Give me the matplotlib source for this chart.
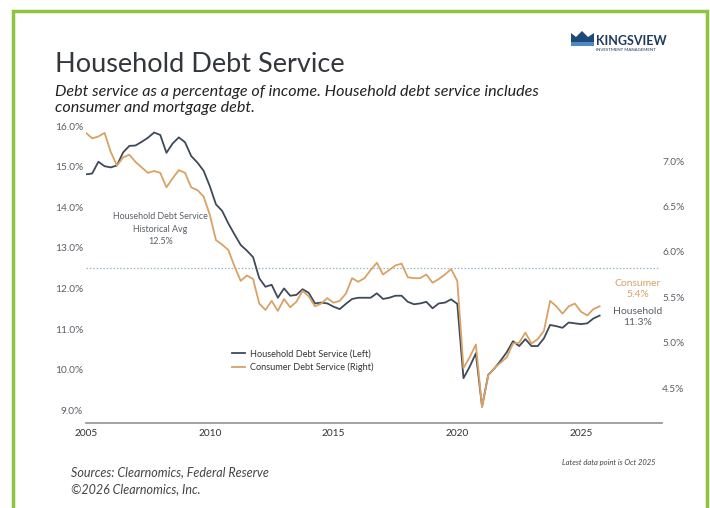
import numpy as np
import matplotlib
matplotlib.use("Agg")
import matplotlib.pyplot as plt
import matplotlib.patches as patches
from matplotlib.lines import Line2D

plt.rcParams['font.family'] = ['Lato', 'DejaVu Sans']

# quarterly data, 2005 Q1 onwards
start_year = 2005
household = [14.81, 14.83, 15.12, 15.01, 14.98, 15.03, 15.35, 15.51, 15.52, 15.61,
             15.71, 15.84, 15.78, 15.34, 15.57, 15.72, 15.60, 15.26, 15.10, 14.90,
             14.52, 14.07, 13.91, 13.60, 13.33, 13.07, 12.93, 12.77, 12.25, 12.04,
             12.09, 11.77, 12.00, 11.82, 11.84, 11.98, 11.89, 11.63, 11.65, 11.63,
             11.55, 11.49, 11.62, 11.74, 11.77, 11.77, 11.77, 11.88, 11.74, 11.77,
             11.82, 11.82, 11.67, 11.61, 11.63, 11.67, 11.51, 11.63, 11.65, 11.73,
             11.62, 9.79, 10.07, 10.40, 9.09, 9.87, 10.03, 10.22, 10.43, 10.70,
             10.58, 10.75, 10.58, 10.58, 10.77, 11.10, 11.07, 11.03, 11.16, 11.14,
             11.12, 11.14, 11.26, 11.33]
consumer = [7.31, 7.25, 7.27, 7.31, 7.10, 6.95, 7.04, 7.07, 6.99, 6.93,
            6.87, 6.89, 6.87, 6.71, 6.81, 6.90, 6.87, 6.71, 6.68, 6.61,
            6.41, 6.13, 6.08, 6.02, 5.84, 5.68, 5.74, 5.70, 5.43, 5.36,
            5.46, 5.35, 5.48, 5.39, 5.45, 5.57, 5.51, 5.40, 5.43, 5.49,
            5.44, 5.46, 5.54, 5.71, 5.67, 5.71, 5.80, 5.88, 5.75, 5.80,
            5.85, 5.87, 5.72, 5.71, 5.71, 5.75, 5.66, 5.70, 5.75, 5.81,
            5.68, 4.72, 4.84, 4.98, 4.29, 4.64, 4.72, 4.78, 4.84, 4.99,
            5.00, 5.11, 4.99, 5.04, 5.13, 5.46, 5.40, 5.32, 5.40, 5.43,
            5.34, 5.30, 5.37, 5.40]
dates = start_year + 0.25 * np.arange(len(household))

hist_avg = 12.5
left_ticks = [9.0, 10.0, 11.0, 12.0, 13.0, 14.0, 15.0, 16.0]
right_ticks = [4.5, 5.0, 5.5, 6.0, 6.5, 7.0]
year_ticks = [2005, 2010, 2015, 2020, 2025]

HH_COLOR = '#3E4A59'
CON_COLOR = '#D9A264'
TXT = '#5a5f66'

W, H = 710, 508
fig = plt.figure(figsize=(W / 100, H / 100), dpi=100)
fig.patch.set_facecolor('white')

# green frame
fig.add_artist(patches.Rectangle((13 / W, -0.05), 694 / W, 1.05 - 11 / H,
                                 transform=fig.transFigure, fill=False,
                                 edgecolor='#8CC63F', linewidth=2.5))

ax = fig.add_axes([86 / W, 1 - 423 / H, 576 / W, 303 / H])
ax2 = ax.twinx()

ax.plot(dates, household, color=HH_COLOR, linewidth=1.3, zorder=3)
ax2.plot(dates, consumer, color=CON_COLOR, linewidth=1.3, zorder=2)
ax.axhline(hist_avg, xmin=0, xmax=0.993, color='#9DB4C2', linestyle=(0, (1.2, 1.5)),
           linewidth=0.9, zorder=1)

ax.set_xlim(2005, 2028.27)
ax.set_ylim(8.685, 16.148)
ax2.set_ylim(4.115, 7.452)

ax.set_yticks(left_ticks)
ax.set_yticklabels([f'{v:.1f}%' for v in left_ticks])
ax2.set_yticks(right_ticks)
ax2.set_yticklabels([f'{v:.1f}%' for v in right_ticks])
ax.set_xticks(year_ticks)
ax.set_xticklabels([str(y) for y in year_ticks])

for a in (ax, ax2):
    for s in ('top', 'left', 'right'):
        a.spines[s].set_visible(False)
    a.spines['bottom'].set_color('#9a9a9a')
    a.spines['bottom'].set_linewidth(1.3)
    a.tick_params(length=0, labelsize=7.3, labelcolor=TXT)
ax.tick_params(axis='y', pad=2)
ax.tick_params(axis='x', pad=4, labelcolor='#333333')
ax2.tick_params(axis='y', pad=0)
ax2.spines['bottom'].set_visible(False)

ax.text(2008.0, 13.87, 'Household Debt Service\nHistorical Avg\n12.5%',
        ha='center', va='top', fontsize=6.4, color=TXT, linespacing=1.5)

legend_handles = [Line2D([], [], color=HH_COLOR, lw=1.3),
                  Line2D([], [], color=CON_COLOR, lw=1.3)]
ax.legend(legend_handles, ['Household Debt Service (Left)', 'Consumer Debt Service (Right)'],
          loc='upper left', bbox_to_anchor=(0.24, 0.27), frameon=False, fontsize=6.6,
          handlelength=1.4, handletextpad=0.5, labelspacing=0.45, labelcolor='#333333')

fig.text(638 / W, 1 - 289 / H, 'Consumer\n5.4%', ha='center', va='center',
         fontsize=7.5, color=CON_COLOR, linespacing=1.3)
fig.text(638 / W, 1 - 317 / H, 'Household\n11.3%', ha='center', va='center',
         fontsize=7.5, color=TXT, linespacing=1.3)

# titles
fig.text(55 / W, 1 - 64 / H, 'Household Debt Service', ha='left', va='center',
         fontsize=19.5, color='#33373c')
fig.text(55 / W, 1 - 100 / H,
         'Debt service as a percentage of income. Household debt service includes\n'
         'consumer and mortgage debt.',
         ha='left', va='center', fontsize=11.6, style='italic', color='#222222',
         linespacing=1.1)

# logo
crown_pts = [(571, 46), (571, 33), (576, 37), (582, 31), (588, 37), (594, 33), (594, 46)]
fig.add_artist(patches.Polygon([(x / W, 1 - y / H) for x, y in crown_pts], closed=True,
                               transform=fig.transFigure, facecolor='#1F4A78',
                               edgecolor='none'))
fig.add_artist(patches.Rectangle((571 / W, 1 - 46 / H), 23 / W, 4 / H,
                                 transform=fig.transFigure, facecolor='#4B8AC4',
                                 edgecolor='none'))
fig.text(596 / W, 1 - 41 / H, 'KINGSVIEW', ha='left', va='center', fontsize=9,
         fontweight='bold', color='#1F3B5E')
fig.text(596 / W, 1 - 50 / H, 'INVESTMENT MANAGEMENT', ha='left', va='center',
         fontsize=3.2, color='#1F3B5E')

# footer
fig.text(71 / W, 1 - 472 / H, 'Sources: Clearnomics, Federal Reserve', ha='left',
         va='center', fontsize=9, style='italic', color='#444444')
fig.text(71 / W, 1 - 489 / H, '©2026 Clearnomics, Inc.', ha='left', va='center',
         fontsize=9, style='italic', color='#444444')
fig.text(655 / W, 1 - 463 / H, 'Latest data point is Oct 2025', ha='right',
         va='center', fontsize=5.5, style='italic', color='#444444')

fig.savefig('out.png', dpi=100)
